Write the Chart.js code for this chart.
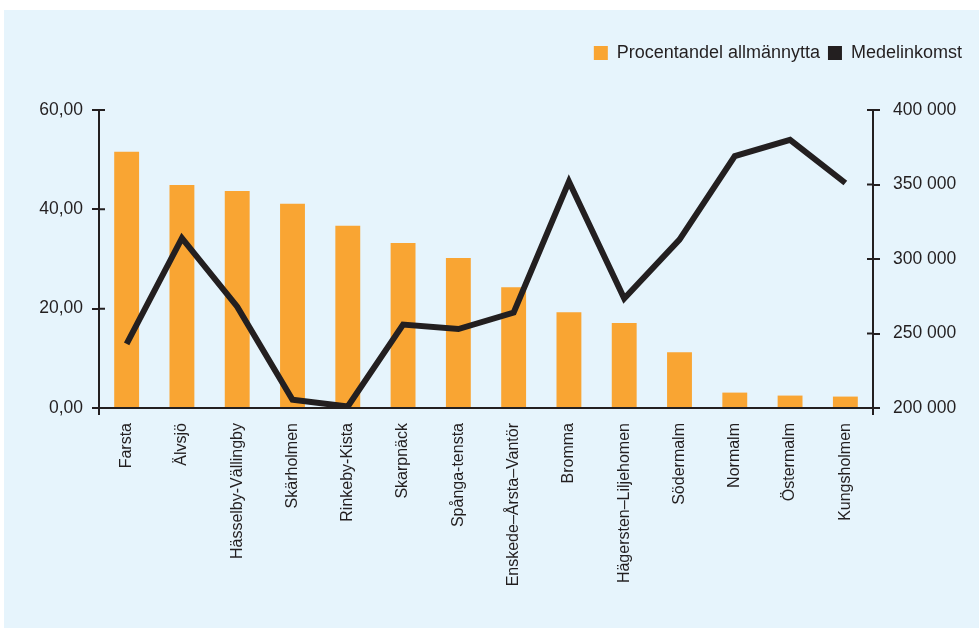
<!DOCTYPE html>
<html lang="sv">
<head>
<meta charset="UTF-8">
<title>Allmännytta och medelinkomst</title>
<script src="https://cdn.jsdelivr.net/npm/chart.js"></script>
<style>
  html, body { margin: 0; padding: 0; background: #ffffff; }
  .chart-box {
    position: absolute;
    left: 4px; top: 10px; width: 975px; height: 618px;
    background: #e6f4fc;
  }
</style>
</head>
<body>
<div class="chart-box">
  <canvas id="chart"></canvas>
</div>
<script>
  const districts = ['Farsta', 'Älvsjö', 'Hässelby-Vällingby', 'Skärholmen', 'Rinkeby-Kista', 'Skarpnäck',
    'Spånga-tensta', 'Enskede–Årsta–Vantör', 'Bromma', 'Hägersten–Liljehomen', 'Södermalm', 'Normalm',
    'Östermalm', 'Kungsholmen'];
  const shareAllmannytta = [51.6, 44.9, 43.7, 41.1, 36.7, 33.2, 30.2, 24.3, 19.3, 17.1, 11.2, 3.1, 2.5, 2.3];
  const meanIncome = [243000, 314000, 268000, 205500, 201000, 256000, 253000, 264000, 352000, 273500, 313000, 369000, 380000, 351000];
  const leftTicks = [0, 20, 40, 60];
  const rightTicks = [200000, 250000, 300000, 350000, 400000];

  const ink = '#231f20';
  const fontFamily = '"Liberation Sans", Arial, Helvetica, sans-serif';

  // ticks in the reference cross the axis, Chart.js only draws the outer half
  const axisExtras = {
    id: 'axisExtras',
    afterDraw(chart) {
      const ctx = chart.ctx;
      const area = chart.chartArea;
      const y = chart.scales.y, y1 = chart.scales.y1;
      ctx.save();
      ctx.strokeStyle = ink;
      ctx.lineWidth = 2;
      ctx.beginPath();
      leftTicks.forEach(v => {
        const py = y.getPixelForValue(v);
        ctx.moveTo(area.left, py); ctx.lineTo(area.left + 6, py);
      });
      rightTicks.forEach(v => {
        const py = y1.getPixelForValue(v);
        ctx.moveTo(area.right - 6, py); ctx.lineTo(area.right, py);
      });
      ctx.moveTo(area.left, area.bottom); ctx.lineTo(area.left, area.bottom + 7);
      ctx.moveTo(area.right, area.bottom); ctx.lineTo(area.right, area.bottom + 7);
      ctx.stroke();
      ctx.restore();
    }
  };

  const legendSpace = {
    id: 'legendSpace',
    beforeInit(chart) {
      const fit = chart.legend.fit;
      chart.legend.fit = function () {
        fit.bind(chart.legend)();
        this.height += 38;
      };
    }
  };

  new Chart(document.getElementById('chart'), {
    data: {
      labels: districts,
      datasets: [
        {
          type: 'bar',
          label: 'Procentandel allmännytta',
          data: shareAllmannytta,
          backgroundColor: '#f9a533',
          barPercentage: 0.45,
          categoryPercentage: 1,
          yAxisID: 'y',
          order: 1
        },
        {
          type: 'line',
          label: 'Medelinkomst',
          data: meanIncome,
          borderColor: ink,
          backgroundColor: ink,
          borderWidth: 6,
          borderJoinStyle: 'miter',
          pointRadius: 0,
          tension: 0,
          yAxisID: 'y1',
          order: 0
        }
      ]
    },
    options: {
      responsive: true,
      maintainAspectRatio: false,
      animation: false,
      layout: { padding: { top: 26, right: 9, bottom: 0, left: 0 } },
      plugins: {
        tooltip: { enabled: false },
        legend: {
          position: 'top',
          align: 'end',
          labels: {
            boxWidth: 14,
            boxHeight: 14,
            padding: 8,
            color: ink,
            font: { family: fontFamily, size: 18 },
            sort: (a, b) => a.datasetIndex - b.datasetIndex,
            generateLabels: chart => Chart.defaults.plugins.legend.labels.generateLabels(chart)
              .map(l => Object.assign(l, { lineWidth: 0 }))
          }
        }
      },
      scales: {
        x: {
          grid: { display: false },
          border: { display: true, color: ink, width: 2 },
          ticks: {
            color: ink,
            font: { family: fontFamily, size: 16 },
            minRotation: 90,
            maxRotation: 90,
            autoSkip: false,
            padding: 7
          },
          afterFit(scale) { scale.height = 220; }
        },
        y: {
          position: 'left',
          min: 0,
          max: 60,
          afterBuildTicks(scale) { scale.ticks = leftTicks.map(v => ({ value: v })); },
          grid: { display: true, drawOnChartArea: false, drawTicks: true, tickLength: 7, color: ink, lineWidth: 2 },
          border: { display: true, color: ink, width: 2 },
          ticks: {
            color: ink,
            font: { family: fontFamily, size: 17.5 },
            padding: 9,
            callback: v => v.toFixed(2).replace('.', ',')
          },
          afterFit(scale) { scale.width = 95; }
        },
        y1: {
          position: 'right',
          min: 200000,
          max: 400000,
          afterBuildTicks(scale) { scale.ticks = rightTicks.map(v => ({ value: v })); },
          grid: { display: true, drawOnChartArea: false, drawTicks: true, tickLength: 7, color: ink, lineWidth: 2 },
          border: { display: true, color: ink, width: 2 },
          ticks: {
            color: ink,
            font: { family: fontFamily, size: 17.5 },
            padding: 13,
            callback: v => String(v).replace(/\B(?=(\d{3})+(?!\d))/g, ' ')
          },
          afterFit(scale) { scale.width = 97; }
        }
      }
    },
    plugins: [axisExtras, legendSpace]
  });
</script>
</body>
</html>
